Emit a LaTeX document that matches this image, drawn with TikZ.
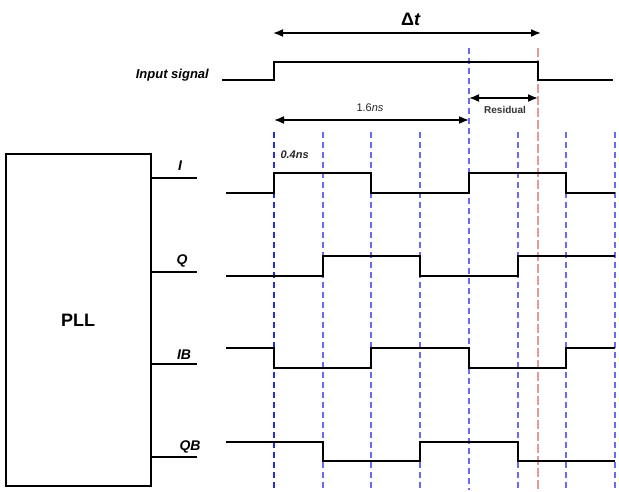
\documentclass[tikz,border=0pt]{standalone}
\usepackage{fontspec}
\setmainfont{Liberation Sans}
\usetikzlibrary{arrows.meta}
\definecolor{gridblue}{HTML}{6A6AEE}
\definecolor{darkblue}{HTML}{2A2AD8}
\definecolor{lightred}{HTML}{E49A9A}
\tikzset{
  wave/.style={line width=1.9pt, black},
  grid line/.style={gridblue, line width=1.6pt, dash pattern=on 6pt off 4pt},
  grid first/.style={darkblue, line width=1.3pt, dash pattern=on 6pt off 4pt},
  redline/.style={lightred, line width=1.5pt, dash pattern=on 9pt off 3pt},
  dim/.style={line width=1.6pt, {Latex[length=10pt,width=8pt]}-{Latex[length=10pt,width=8pt]}},
  sig/.style={font=\bfseries\itshape\fontsize{14}{14}\selectfont, inner sep=0pt},
  stub/.style={line width=1.8pt, black}
}
\begin{document}
\begin{tikzpicture}[x=1pt,y=-1pt]
\useasboundingbox (0,0) rectangle (619,492);
\fill[white] (0,0) rectangle (619,492);
% grid dashed lines
\draw[grid first] (274,132) -- (274,490);
\foreach \xx in {323,371,420,518,566,615} {
  \draw[grid line] (\xx,132) -- (\xx,490);
}
\draw[grid line] (469,48) -- (469,490);
\draw[redline] (538,48) -- (538,490);

% PLL block
\node[draw, line width=1.8pt, minimum width=145pt, minimum height=332pt, anchor=north west,
      inner sep=0pt] (pll) at (5,153) {};
\node[font=\bfseries\fontsize{18}{18}\selectfont] (plllabel) at (78,320) {PLL};
% stubs
\coordinate (sI) at (197,178);
\coordinate (sQ) at (197,272);
\coordinate (sIB) at (197,364);
\coordinate (sQB) at (197,457);
\draw[stub] (pll.east |- sI) -- (sI);
\draw[stub] (pll.east |- sQ) -- (sQ);
\draw[stub] (pll.east |- sIB) -- (sIB);
\draw[stub] (pll.east |- sQB) -- (sQB);
\node[sig] (lI) at (180,166) {I};
\node[sig] (lQ) at (182,261) {Q};
\node[sig] (lIB) at (184,355) {IB};
\node[sig] (lQB) at (190,447) {QB};

% Input signal
\node[sig, font=\bfseries\itshape\fontsize{13}{13}\selectfont, anchor=east] (lin) at (209,75) {Input signal};
\draw[wave] (222,80) -- (274,80) -- (274,62) -- (538,62) -- (538,80) -- (613,80);

% I
\draw[wave] (226,193) -- (274,193) -- (274,173) -- (371,173) -- (371,193)
  -- (469,193) -- (469,173) -- (566,173) -- (566,193) -- (615,193);
% Q
\draw[wave] (226,276) -- (323,276) -- (323,256) -- (420,256) -- (420,276)
  -- (518,276) -- (518,256) -- (615,256);
% IB
\draw[wave] (226,348) -- (274,348) -- (274,368) -- (371,368) -- (371,348)
  -- (469,348) -- (469,368) -- (566,368) -- (566,348) -- (615,348);
% QB
\draw[wave] (226,442) -- (323,442) -- (323,461) -- (420,461) -- (420,442)
  -- (518,442) -- (518,461) -- (615,461);

% dimension arrows
\coordinate (dtA) at (273,33);
\coordinate (dtB) at (541,33);
\draw[dim] (dtA) -- (dtB);
\node[font=\bfseries\fontsize{18}{18}\selectfont] (dtlabel) at (411,19) {Δ\textit{t}};

\coordinate (rA) at (469,98);
\coordinate (rB) at (538,98);
\draw[dim] (rA) -- (rB);
\node[font=\bfseries\fontsize{10}{10}\selectfont, text=black!80] (rlabel) at (505,110) {Residual};

\coordinate (sA) at (274,120);
\coordinate (sB) at (469,120);
\draw[dim] (sA) -- (sB);
\node[font=\fontsize{11}{11}\selectfont, text=black!85] (slabel) at (370,108) {1.6\textit{ns}};

\node[font=\bfseries\itshape\fontsize{11}{11}\selectfont, anchor=west, text=black!85] (qlabel) at (277,155) {0.4ns};
\end{tikzpicture}
\end{document}
